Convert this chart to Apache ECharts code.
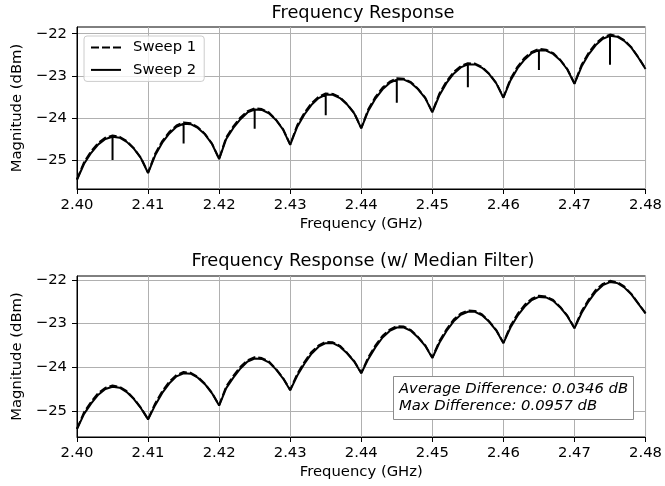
<!DOCTYPE html>
<html>
<head>
<meta charset="utf-8">
<script src="https://cdn.jsdelivr.net/npm/echarts@6/dist/echarts.min.js"></script>
<style>
  html, body { margin: 0; padding: 0; background: #fff; }
  #chart { width: 665px; height: 486px; }
</style>
</head>
<body>
<div id="chart"></div>
<script>
// frequency grid (GHz)
const freq = [
  2.400, 2.401, 2.402, 2.403, 2.404, 2.405, 2.406, 2.407, 2.408, 2.409,
  2.410, 2.411, 2.412, 2.413, 2.414, 2.415, 2.416, 2.417, 2.418, 2.419,
  2.420, 2.421, 2.422, 2.423, 2.424, 2.425, 2.426, 2.427, 2.428, 2.429,
  2.430, 2.431, 2.432, 2.433, 2.434, 2.435, 2.436, 2.437, 2.438, 2.439,
  2.440, 2.441, 2.442, 2.443, 2.444, 2.445, 2.446, 2.447, 2.448, 2.449,
  2.450, 2.451, 2.452, 2.453, 2.454, 2.455, 2.456, 2.457, 2.458, 2.459,
  2.460, 2.461, 2.462, 2.463, 2.464, 2.465, 2.466, 2.467, 2.468, 2.469,
  2.470, 2.471, 2.472, 2.473, 2.474, 2.475, 2.476, 2.477, 2.478, 2.479,
  2.480
];

// raw sweeps (dBm)
const sweep1Raw = [
  -25.46, -25.05, -24.79, -24.59, -24.47, -24.42, -24.45, -24.55, -24.72, -24.95,
  -25.30, -24.85, -24.55, -24.33, -24.18, -24.11, -24.13, -24.22, -24.38, -24.61,
  -24.97, -24.46, -24.20, -23.99, -23.84, -23.77, -23.79, -23.87, -24.04, -24.27,
  -24.63, -24.17, -23.88, -23.65, -23.50, -23.42, -23.43, -23.51, -23.67, -23.88,
  -24.24, -23.79, -23.50, -23.28, -23.14, -23.06, -23.07, -23.15, -23.31, -23.52,
  -23.86, -23.42, -23.13, -22.91, -22.77, -22.70, -22.71, -22.79, -22.95, -23.17,
  -23.51, -23.07, -22.78, -22.57, -22.43, -22.36, -22.38, -22.46, -22.62, -22.84,
  -23.18, -22.74, -22.45, -22.23, -22.09, -22.02, -22.05, -22.15, -22.32, -22.56,
  -22.83
];
const sweep2Raw = [
  -25.47, -25.09, -24.83, -24.63, -24.50, -24.45, -24.47, -24.57, -24.73, -24.96,
  -25.31, -24.89, -24.59, -24.37, -24.21, -24.14, -24.15, -24.24, -24.39, -24.62,
  -24.98, -24.50, -24.24, -24.03, -23.87, -23.80, -23.81, -23.89, -24.05, -24.28,
  -24.64, -24.21, -23.92, -23.69, -23.53, -23.45, -23.45, -23.53, -23.68, -23.89,
  -24.25, -23.83, -23.54, -23.32, -23.17, -23.09, -23.09, -23.17, -23.32, -23.53,
  -23.87, -23.46, -23.17, -22.95, -22.80, -22.73, -22.73, -22.81, -22.96, -23.18,
  -23.52, -23.11, -22.82, -22.61, -22.46, -22.39, -22.40, -22.48, -22.63, -22.85,
  -23.19, -22.78, -22.49, -22.27, -22.12, -22.05, -22.07, -22.17, -22.33, -22.57,
  -22.84
];
// narrow dropouts in sweep 2
const spikeFreq = [2.405, 2.415, 2.425, 2.435, 2.445, 2.455, 2.465, 2.475];
const spikeLow = [-25.00, -24.61, -24.26, -23.94, -23.64, -23.27, -22.86, -22.74];

// median filtered sweeps (dBm)
const sweep1Filt = [
  -25.41, -25.03, -24.79, -24.59, -24.47, -24.42, -24.45, -24.55, -24.72, -24.93,
  -25.19, -24.83, -24.55, -24.33, -24.18, -24.11, -24.13, -24.22, -24.38, -24.59,
  -24.87, -24.44, -24.20, -23.99, -23.84, -23.77, -23.79, -23.87, -24.04, -24.25,
  -24.52, -24.15, -23.88, -23.65, -23.50, -23.42, -23.43, -23.51, -23.67, -23.86,
  -24.13, -23.77, -23.50, -23.28, -23.14, -23.06, -23.07, -23.15, -23.31, -23.50,
  -23.78, -23.40, -23.13, -22.91, -22.77, -22.70, -22.71, -22.79, -22.95, -23.15,
  -23.44, -23.05, -22.78, -22.57, -22.43, -22.36, -22.38, -22.46, -22.62, -22.82,
  -23.10, -22.72, -22.45, -22.23, -22.09, -22.02, -22.05, -22.15, -22.32, -22.54,
  -22.76
];
const sweep2Filt = [
  -25.42, -25.07, -24.83, -24.63, -24.50, -24.45, -24.47, -24.57, -24.73, -24.94,
  -25.20, -24.87, -24.59, -24.37, -24.21, -24.14, -24.15, -24.24, -24.39, -24.60,
  -24.88, -24.48, -24.24, -24.03, -23.87, -23.80, -23.81, -23.89, -24.05, -24.26,
  -24.53, -24.19, -23.92, -23.69, -23.53, -23.45, -23.45, -23.53, -23.68, -23.87,
  -24.14, -23.81, -23.54, -23.32, -23.17, -23.09, -23.09, -23.17, -23.32, -23.51,
  -23.79, -23.44, -23.17, -22.95, -22.80, -22.73, -22.73, -22.81, -22.96, -23.16,
  -23.45, -23.09, -22.82, -22.61, -22.46, -22.39, -22.40, -22.48, -22.63, -22.83,
  -23.11, -22.76, -22.49, -22.27, -22.12, -22.05, -22.07, -22.17, -22.33, -22.55,
  -22.77
];

const xTicks = [2.40, 2.41, 2.42, 2.43, 2.44, 2.45, 2.46, 2.47, 2.48];
const yTicks = [-25, -24, -23, -22];
const avgDiff = '0.0346';
const maxDiff = '0.0957';

const pairs = (ys) => freq.map((f, i) => [f, ys[i]]);

// sweep 2 with the dropouts drawn as vertical drops at their frequency
const withSpikes = (ys) => {
  const out = [];
  freq.forEach((f, i) => {
    out.push([f, ys[i]]);
    const k = spikeFreq.findIndex((s) => Math.abs(s - f) < 1e-9);
    if (k >= 0) {
      out.push([f, spikeLow[k]]);
      out.push([f, ys[i]]);
    }
  });
  return out;
};

const FONT = 'DejaVu Sans';
const FS = 14.8;   // 10pt
const FS_T = 17.8; // 12pt

const makeX = (gridIndex) => ({
  type: 'value',
  gridIndex,
  min: 2.40,
  max: 2.48,
  name: 'Frequency (GHz)',
  nameLocation: 'middle',
  nameGap: 28,
  nameTextStyle: { fontSize: FS, color: '#000', fontFamily: FONT },
  axisLine: { show: true, onZero: false, lineStyle: { color: '#000', width: 1 } },
  axisTick: { show: true, customValues: xTicks, length: 5, lineStyle: { color: '#000', width: 1 } },
  axisLabel: {
    customValues: xTicks,
    margin: 9,
    fontSize: FS,
    color: '#000',
    fontFamily: FONT,
    formatter: (v) => v.toFixed(2),
  },
  splitLine: { show: true, lineStyle: { color: '#b0b0b0', width: 1 } },
});

const makeY = (gridIndex, min, max) => ({
  type: 'value',
  gridIndex,
  min,
  max,
  name: 'Magnitude (dBm)',
  nameLocation: 'middle',
  nameGap: 42,
  nameTextStyle: { fontSize: FS, color: '#000', fontFamily: FONT },
  axisLine: { show: true, onZero: false, lineStyle: { color: '#000', width: 1 } },
  axisTick: { show: true, customValues: yTicks, length: 5, lineStyle: { color: '#000', width: 1 } },
  axisLabel: {
    customValues: yTicks,
    margin: 10,
    fontSize: FS,
    color: '#000',
    fontFamily: FONT,
    formatter: (v) => String(v).replace('-', '\u2212'),
  },
  splitLine: { show: true, lineStyle: { color: '#b0b0b0', width: 1 } },
});

const chart = echarts.init(document.getElementById('chart'));

chart.setOption({
  animation: false,
  backgroundColor: '#fff',
  textStyle: { fontFamily: FONT },
  title: [
    {
      text: 'Frequency Response',
      left: 363, top: 4, textAlign: 'center', padding: 0,
      textStyle: { fontSize: FS_T, fontWeight: 'normal', color: '#000', fontFamily: FONT },
    },
    {
      text: 'Frequency Response (w/ Median Filter)',
      left: 363, top: 252, textAlign: 'center', padding: 0,
      textStyle: { fontSize: FS_T, fontWeight: 'normal', color: '#000', fontFamily: FONT },
    },
    {
      text: 'Average Difference: ' + avgDiff + ' dB\nMax Difference: ' + maxDiff + ' dB',
      left: 393, top: 376,
      padding: [5, 6, 5, 6],
      backgroundColor: '#fff',
      borderColor: '#8c8c8c',
      borderWidth: 1,
      borderRadius: 0,
      textStyle: {
        fontSize: FS, fontStyle: 'italic', fontWeight: 'normal',
        lineHeight: 17, color: '#000', fontFamily: FONT,
      },
      z: 10,
    },
  ],
  legend: {
    data: ['Sweep 1', 'Sweep 2'],
    orient: 'vertical',
    left: 84,
    top: 36,
    padding: [4, 8, 4, 6],
    itemWidth: 30,
    itemHeight: 15,
    itemGap: 7.4,
    backgroundColor: 'rgba(255,255,255,0.8)',
    borderColor: '#cccccc',
    borderWidth: 1,
    borderRadius: 3,
    itemStyle: { opacity: 0 },
    textStyle: { fontSize: FS, color: '#000', fontFamily: FONT, padding: [0, 0, 0, 7] },
  },
  grid: [
    { left: 77, right: 16, top: 27, height: 162, show: true, borderColor: '#000', borderWidth: 1, backgroundColor: 'transparent' },
    { left: 77, right: 16, top: 276, height: 161, show: true, borderColor: '#000', borderWidth: 1, backgroundColor: 'transparent' },
  ],
  xAxis: [makeX(0), makeX(1)],
  yAxis: [makeY(0, -25.69, -21.84), makeY(1, -25.60, -21.91)],
  series: [
    {
      name: 'Sweep 1', type: 'line', xAxisIndex: 0, yAxisIndex: 0,
      data: pairs(sweep1Raw), symbol: 'none', color: '#000',
      lineStyle: { color: '#000', width: 2, type: [8, 3] },
    },
    {
      name: 'Sweep 2', type: 'line', xAxisIndex: 0, yAxisIndex: 0,
      data: withSpikes(sweep2Raw), symbol: 'none', color: '#000',
      lineStyle: { color: '#000', width: 2 },
    },
    {
      name: 'Sweep 1', type: 'line', xAxisIndex: 1, yAxisIndex: 1,
      data: pairs(sweep1Filt), symbol: 'none', color: '#000',
      lineStyle: { color: '#000', width: 2, type: [8, 3] },
    },
    {
      name: 'Sweep 2', type: 'line', xAxisIndex: 1, yAxisIndex: 1,
      data: pairs(sweep2Filt), symbol: 'none', color: '#000',
      lineStyle: { color: '#000', width: 2 },
    },
  ],
});
</script>
</body>
</html>
